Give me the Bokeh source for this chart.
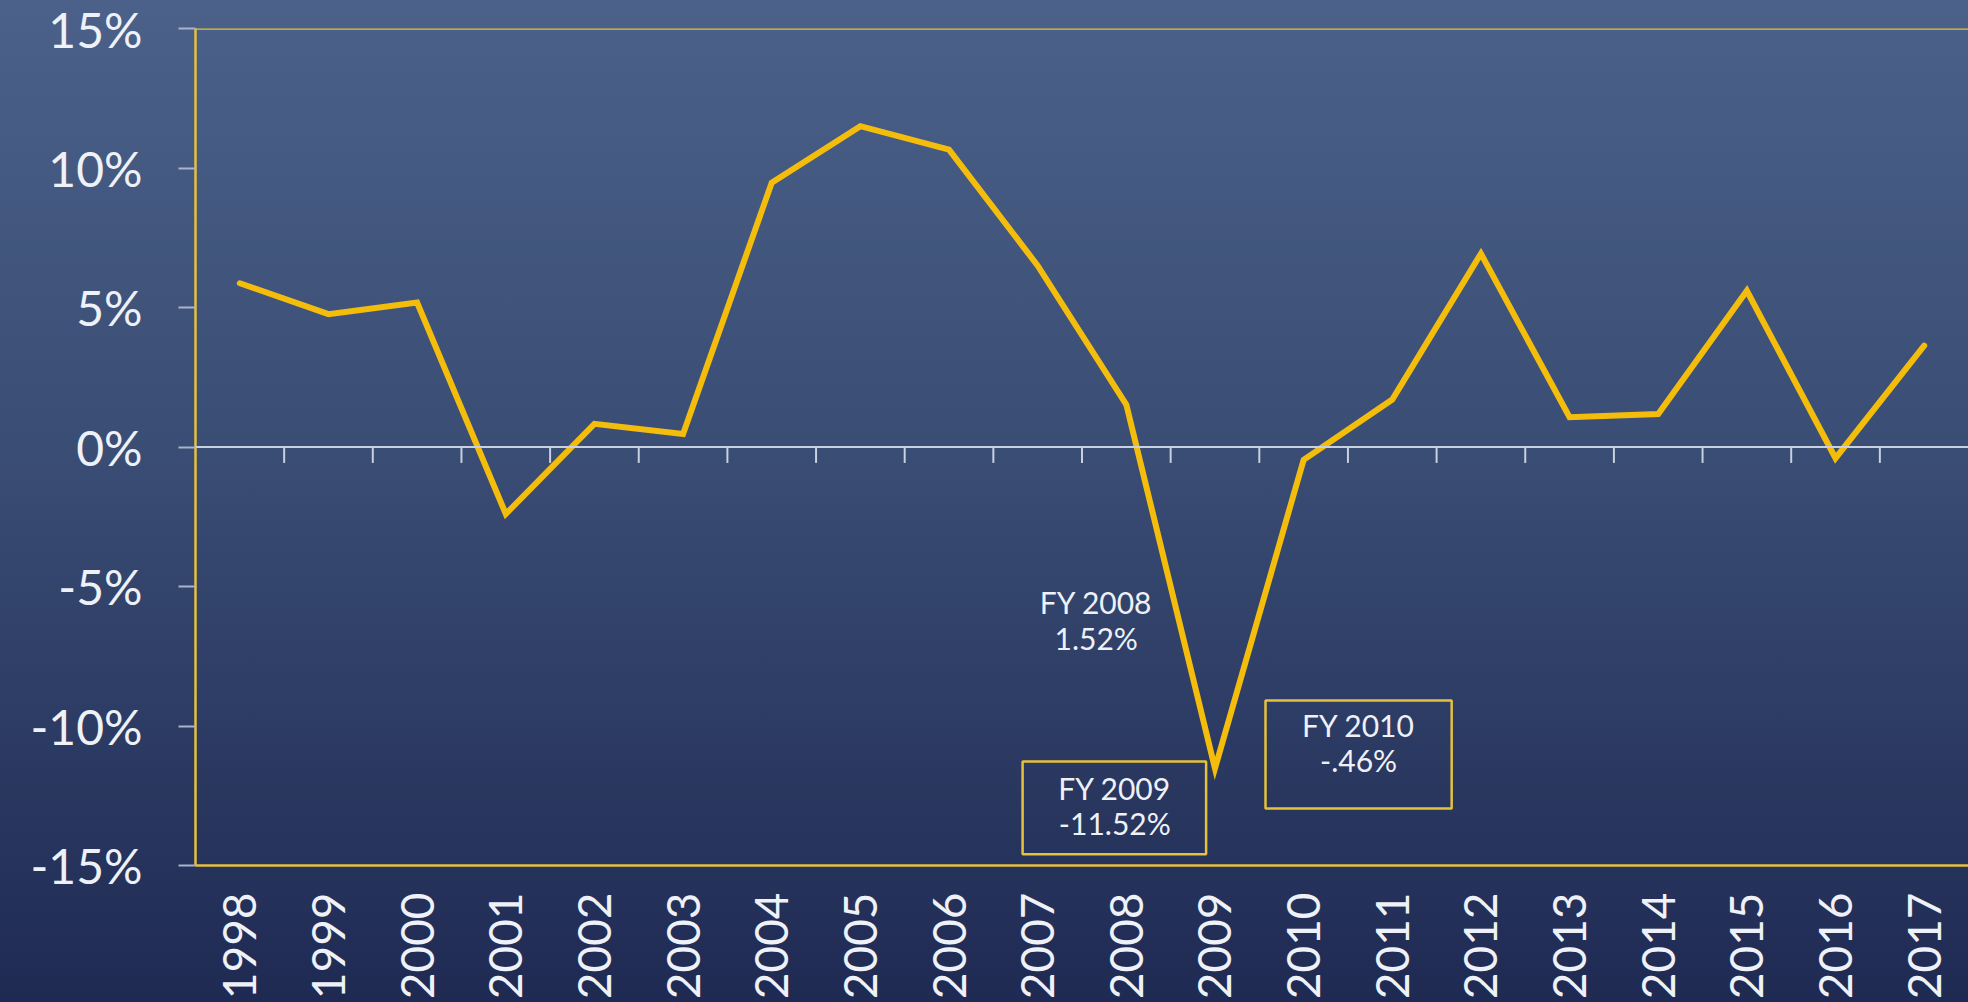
from math import pi

from bokeh.core.properties import value
from bokeh.embed import file_html
from bokeh.models import (BoxAnnotation, ColumnDataSource, FixedTicker,
                          PrintfTickFormatter, Range1d, Span)
from bokeh.plotting import figure
from bokeh.resources import INLINE

# Fiscal years and annual growth rate (%)
years = [1998, 1999, 2000, 2001, 2002, 2003, 2004, 2005, 2006, 2007,
         2008, 2009, 2010, 2011, 2012, 2013, 2014, 2015, 2016, 2017]
growth = [5.87, 4.76, 5.18, -2.40, 0.83, 0.47, 9.47, 11.50, 10.66, 6.50,
          1.52, -11.52, -0.46, 1.70, 6.93, 1.07, 1.18, 5.60, -0.40, 3.63]
y_ticks = [-15, -10, -5, 0, 5, 10, 15]

# Years called out with a note
called_out = [2008, 2009, 2010]

FONT = "Lato"
TEXT = "#eef1f7"
GOLD = "#f4bd0c"
FRAME_GOLD = "#e6c13c"
ZERO_GRAY = "#c9d0df"

idx = list(range(len(years)))


def pct(v):
    s = f"{v:.2f}"
    if s.startswith("0."):
        s = s[1:]
    elif s.startswith("-0."):
        s = "-" + s[2:]
    return s + "%"


p = figure(width=1968, height=1002, output_backend="svg", toolbar_location=None,
           x_range=Range1d(-0.5, len(years) - 0.5),
           y_range=Range1d(y_ticks[0], y_ticks[-1]),
           min_border_left=195, min_border_right=0,
           min_border_top=28, min_border_bottom=136)
p.styles = {"background": "linear-gradient(to bottom, #4b6189 0%, #3a4d74 45%, #1f2a53 100%)"}
p.background_fill_alpha = 0
p.border_fill_alpha = 0
p.outline_line_color = None
p.grid.visible = False

# y axis
ya = p.yaxis[0]
ya.ticker = FixedTicker(ticks=y_ticks)
ya.formatter = PrintfTickFormatter(format="%d%%")
ya.axis_line_color = FRAME_GOLD
ya.axis_line_width = 2.5
ya.major_tick_line_color = "#a9b3cb"
ya.major_tick_line_width = 2
ya.major_tick_out = 17
ya.major_tick_in = 0
ya.minor_tick_line_color = None
ya.major_label_standoff = 36
ya.major_label_text_font = FONT
ya.major_label_text_font_size = "48px"
ya.major_label_text_color = TEXT

# x axis: one vertical year label per category
xa = p.xaxis[0]
xa.ticker = FixedTicker(ticks=idx)
xa.major_label_overrides = {i: str(y) for i, y in zip(idx, years)}
xa.major_label_orientation = pi / 2
xa.axis_line_color = FRAME_GOLD
xa.axis_line_width = 2.5
xa.major_tick_line_color = None
xa.minor_tick_line_color = None
xa.major_tick_out = 0
xa.major_tick_in = 0
xa.major_label_standoff = 27
xa.major_label_text_font = FONT
xa.major_label_text_font_size = "46px"
xa.major_label_text_color = TEXT

# top frame line
p.add_layout(Span(location=y_ticks[-1], dimension="width",
                  line_color=FRAME_GOLD, line_width=2.5))

# zero baseline with ticks between the years
p.add_layout(Span(location=0, dimension="width", line_color=ZERO_GRAY, line_width=2))
TICK_LEN = 0.57
bounds = [i + 0.5 for i in idx[:-1]]
p.segment(x0=bounds, y0=[0] * len(bounds), x1=bounds, y1=[-TICK_LEN] * len(bounds),
          line_color=ZERO_GRAY, line_width=2)

# growth line
p.line(idx, growth, line_color=GOLD, line_width=6, line_join="miter", line_cap="round")

# notes: text position (x, y in data units) and optional box (left, right, top, bottom)
note_pos = {2008: (9.66, -6.20), 2009: (9.87, -12.85), 2010: (12.62, -10.60)}
note_box = {2009: (8.83, 10.90, -11.27, -14.60), 2010: (11.57, 13.67, -9.09, -12.96)}

nx, ny, nt = [], [], []
for yr in called_out:
    v = growth[years.index(yr)]
    x, y = note_pos[yr]
    nx.append(x)
    ny.append(y)
    nt.append(f"FY {yr}\n{pct(v)}")
    if yr in note_box:
        l, r, t, b = note_box[yr]
        p.add_layout(BoxAnnotation(left=l, right=r, top=t, bottom=b,
                                   fill_alpha=0, line_color=FRAME_GOLD,
                                   line_alpha=1, line_width=2.5))

p.text(x="x", y="y", text="t", source=ColumnDataSource(dict(x=nx, y=ny, t=nt)),
       text_font=value(FONT), text_font_size="30px", text_color=TEXT,
       text_align="center", text_baseline="middle", text_line_height=0.98)

open("out.html", "w").write(file_html(p, INLINE))
